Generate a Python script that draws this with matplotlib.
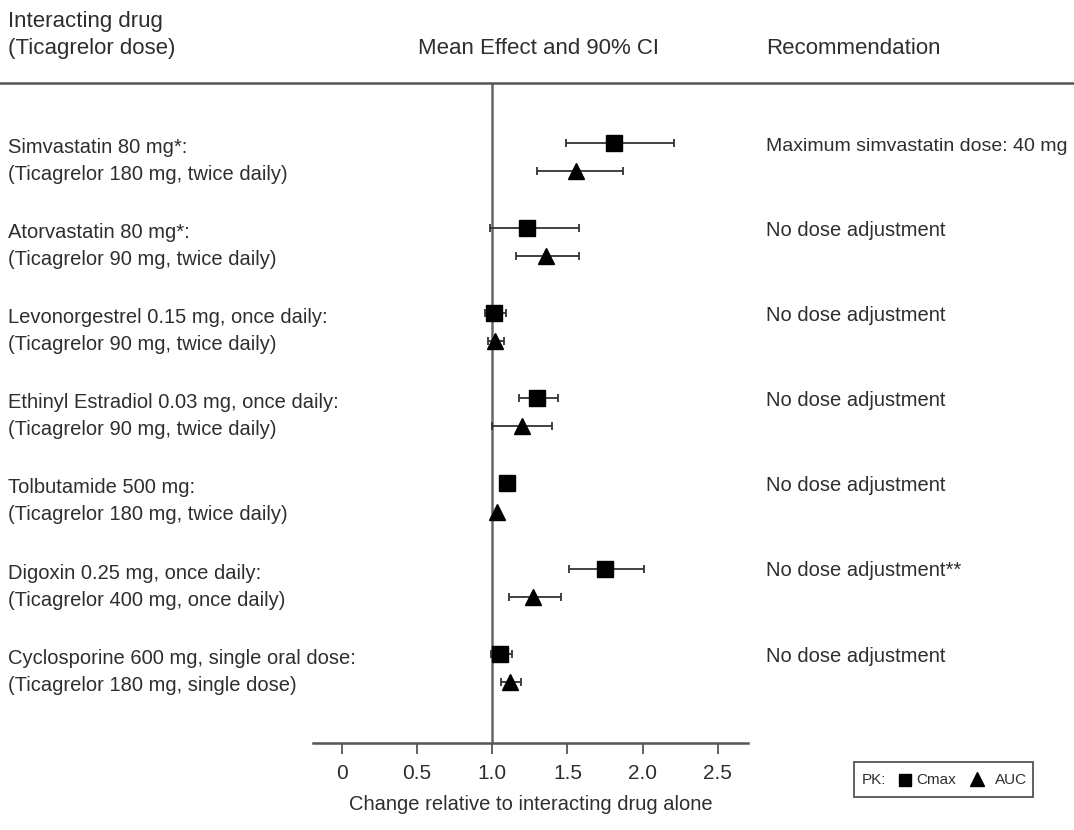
import numpy as np
import matplotlib
matplotlib.use("Agg")
import matplotlib.pyplot as plt
from matplotlib.lines import Line2D
from matplotlib.patches import Rectangle

plt.rcParams['font.family'] = ['Liberation Sans', 'DejaVu Sans']

# data
drugs = ["Simvastatin 80 mg*:", "Atorvastatin 80 mg*:",
         "Levonorgestrel 0.15 mg, once daily:", "Ethinyl Estradiol 0.03 mg, once daily:",
         "Tolbutamide 500 mg:", "Digoxin 0.25 mg, once daily:",
         "Cyclosporine 600 mg, single oral dose:"]
doses = ["(Ticagrelor 180 mg, twice daily)", "(Ticagrelor 90 mg, twice daily)",
         "(Ticagrelor 90 mg, twice daily)", "(Ticagrelor 90 mg, twice daily)",
         "(Ticagrelor 180 mg, twice daily)", "(Ticagrelor 400 mg, once daily)",
         "(Ticagrelor 180 mg, single dose)"]
recs = ["Maximum simvastatin dose: 40 mg", "No dose adjustment", "No dose adjustment",
        "No dose adjustment", "No dose adjustment", "No dose adjustment**",
        "No dose adjustment"]

cmax = [1.81, 1.23, 1.01, 1.30, 1.10, 1.75, 1.05]
cmax_lo = [1.49, 0.985, 0.95, 1.18, None, 1.51, 0.99]
cmax_hi = [2.21, 1.58, 1.09, 1.44, None, 2.01, 1.13]
auc = [1.56, 1.36, 1.02, 1.20, 1.03, 1.27, 1.12]
auc_lo = [1.30, 1.16, 0.97, 1.00, None, 1.11, 1.06]
auc_hi = [1.87, 1.58, 1.08, 1.40, None, 1.46, 1.19]

ticks = [0, 0.5, 1.0, 1.5, 2.0, 2.5]
tick_labels = ["0", "0.5", "1.0", "1.5", "2.0", "2.5"]

W, H = 1074, 830
fig = plt.figure(figsize=(W / 100, H / 100), dpi=100)
fig.patch.set_facecolor('white')

def fx(x):
    return x / W

def fy(y):
    return 1 - y / H

txt = '#2e2e2e'
fs = 14.5
hfs = 16

ax = fig.add_axes([fx(313), fy(743), fx(748) - fx(313), fy(83) - fy(743)])
ax.set_xlim(-0.19, 2.70)
ax.set_ylim(7.05, -0.705)
for s in ['top', 'left', 'right']:
    ax.spines[s].set_visible(False)
ax.spines['bottom'].set_color('#555555')
ax.spines['bottom'].set_linewidth(1.8)
ax.set_yticks([])
ax.set_xticks(ticks)
ax.set_xticklabels(tick_labels, fontsize=15, color=txt)
ax.tick_params(axis='x', direction='out', length=8, width=1.3, color='#555555', pad=7)
ax.set_xlabel("Change relative to interacting drug alone", fontsize=fs, color=txt, labelpad=9)

ax.axvline(1.0, color='#666666', lw=1.8, zorder=1)

off = 0.33
rows = np.arange(len(drugs))
for i in rows:
    if cmax_lo[i] is not None:
        ax.errorbar(cmax[i], i, xerr=[[cmax[i] - cmax_lo[i]], [cmax_hi[i] - cmax[i]]],
                    fmt='none', ecolor='#333333', elinewidth=1.3, capsize=3, capthick=1.3, zorder=2)
    if auc_lo[i] is not None:
        ax.errorbar(auc[i], i + off, xerr=[[auc[i] - auc_lo[i]], [auc_hi[i] - auc[i]]],
                    fmt='none', ecolor='#333333', elinewidth=1.3, capsize=3, capthick=1.3, zorder=2)
ax.plot(cmax, rows, 's', color='black', ms=11, zorder=3, clip_on=False)
ax.plot(auc, rows + off, '^', color='black', ms=12, zorder=3, clip_on=False)

# header
fig.text(fx(8), fy(27), "Interacting drug", fontsize=hfs, color=txt, va='baseline')
fig.text(fx(8), fy(54), "(Ticagrelor dose)", fontsize=hfs, color=txt, va='baseline')
fig.text(fx(538), fy(54), "Mean Effect and 90% CI", fontsize=hfs, color=txt, va='baseline', ha='center')
fig.text(fx(766), fy(54), "Recommendation", fontsize=hfs, color=txt, va='baseline')

fig.add_artist(Line2D([0, 1], [fy(83), fy(83)], color='#555555', lw=1.8))

step = 85.1
for i in rows:
    fig.text(fx(8), fy(153 + step * i), drugs[i], fontsize=fs, color=txt, va='baseline')
    fig.text(fx(8), fy(180 + step * i), doses[i], fontsize=fs, color=txt, va='baseline')
    rfs = 14 if i == 0 else fs
    fig.text(fx(766), fy(151 + step * i), recs[i], fontsize=rfs, color=txt, va='baseline')

# legend box
fig.add_artist(Rectangle((fx(854), fy(797)), fx(1033) - fx(854), fy(762) - fy(797),
                         fill=False, edgecolor='#555555', lw=1.3))
fig.text(fx(862), fy(780), "PK:", fontsize=11, color=txt, va='center')
fig.add_artist(Line2D([fx(905)], [fy(780)], marker='s', color='black', ms=9, ls='none'))
fig.text(fx(916), fy(780), "Cmax", fontsize=11, color=txt, va='center')
fig.add_artist(Line2D([fx(977)], [fy(779)], marker='^', color='black', ms=10, ls='none'))
fig.text(fx(995), fy(780), "AUC", fontsize=11, color=txt, va='center')

fig.savefig("out.png", dpi=100, facecolor='white')
